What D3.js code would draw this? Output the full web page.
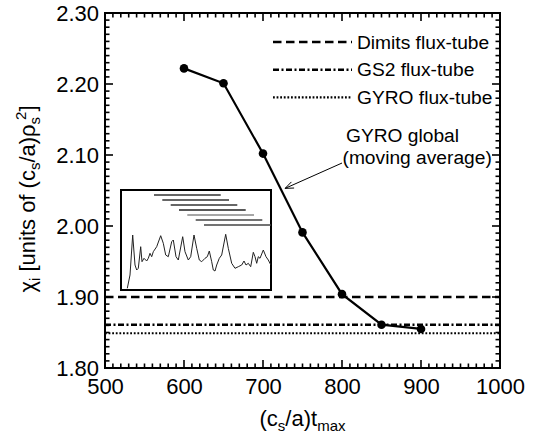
<!DOCTYPE html>
<html>
<head>
<meta charset="utf-8">
<script src="https://cdn.jsdelivr.net/npm/d3@7"></script>
<style>
  body { margin: 0; background: #fff; }
  text { font-family: "Liberation Sans", Arial, sans-serif; fill: #000; }
</style>
</head>
<body>
<div id="container"></div>
<script>
/* CONSTANTS AND GLOBALS */
const width = 539,
  height = 435,
  margin = { top: 13, bottom: 67, left: 105, right: 39 };

// MAIN DATA (GYRO global, moving average)
const tmax = [600, 650, 700, 750, 800, 850, 900];
const chiGlobal = [2.222, 2.201, 2.102, 1.991, 1.904, 1.861, 1.855];

// FLUX-TUBE REFERENCE LEVELS
const fluxNames = ["Dimits flux-tube", "GS2 flux-tube", "GYRO flux-tube"];
const fluxChi = [1.900, 1.861, 1.849];
const fluxDash = ["8.5,4.5", "6,2.5,2,2.5", "1.8,1.8"];
const fluxWidth = [2.5, 2.4, 2.1];

// TICKS
const xMajor = [500, 600, 700, 800, 900, 1000];
const yMajor = [1.80, 1.90, 2.00, 2.10, 2.20, 2.30];

// INSET: TIME TRACE AND AVERAGING WINDOWS (arbitrary units)
const insetT = [6.3, 9, 11.7, 14, 15.7, 17.3, 19.7, 21, 23, 25.7, 27.3, 29, 30.7, 32.3, 35.7,
  39.7, 42.3, 44.7, 47.3, 50.7, 52.3, 55, 57.3, 61.7, 64, 67.3, 69.7, 73, 75.7, 78.3, 80.7,
  84, 86.3, 88.3, 90.7, 92.3, 94, 95.7, 98.3, 100.7, 104.7, 107.3, 110.7, 114, 117.3, 120.7,
  123, 125, 127.3, 129.7, 132.3, 134, 135.7, 137.3, 139, 142.3, 145, 147.3, 149.7];
const insetV = [1.7, 15, 55, 25, 20, 21.7, 43.3, 28.3, 31.7, 29, 31.7, 36.7, 33.3, 38.3, 43.3,
  54.3, 46.7, 35, 33.3, 48.3, 50, 33.3, 30, 53.3, 38.3, 30, 33.3, 55, 41.7, 30, 28.3,
  31.7, 33.3, 39, 28.3, 20, 19, 25, 31.7, 35, 55.7, 41.7, 26.7, 21.7, 23.3, 25,
  29, 25, 26.7, 23.3, 37.7, 33.3, 26.7, 33.3, 31.7, 40, 33.3, 30, 25.3];
const windowStart = [33, 41.3, 49.7, 58, 66.3, 74.7, 83];
const windowEnd = [99.7, 108, 116.3, 124.7, 133, 141.3, 150];
const windowLevel = [95, 90, 85, 80, 75, 70, 65];
const windowColor = ["#333", "#333", "#333", "#222", "#888", "#444", "#444"];

// APPEND SVG
const svg = d3.select("#container")
  .append("svg")
  .attr("width", width)
  .attr("height", height)

// SCALES
const x = d3.scaleLinear().domain([500, 1000]).range([margin.left, width - margin.right])
const y = d3.scaleLinear().domain([1.80, 2.30]).range([height - margin.bottom, margin.top])

// TICK LABELS (axes used for text only)
function styleAxis(g) {
  g.select(".domain").remove()
  g.selectAll("line").remove()
  g.selectAll("text").attr("font-size", 22).attr("font-family", "'Liberation Sans', Arial, sans-serif")
}
svg.append("g")
  .attr("transform", `translate(0,${y(1.80)})`)
  .call(d3.axisBottom(x).tickValues(xMajor).tickSize(0).tickPadding(10).tickFormat(d3.format("d")))
  .call(styleAxis)
svg.append("g")
  .attr("transform", `translate(${x(500)},0)`)
  .call(d3.axisLeft(y).tickValues(yMajor).tickSize(0).tickPadding(6).tickFormat(d3.format(".2f")))
  .call(styleAxis)

// TICK MARKS, INWARD ON ALL FOUR SIDES (IDL STYLE)
const xTicks = d3.range(500, 1001, 10).map(v => ({ v, len: v % 100 === 0 ? 8 : 4.5 }))
const yTicks = d3.range(180, 231, 1).map(v => ({ v: v / 100, len: v % 10 === 0 ? 8 : 4.5 }))
const ticks = svg.append("g").attr("stroke", "#000").attr("stroke-width", 1.6)
ticks.selectAll("line.xb").data(xTicks).join("line")
  .attr("class", "xb")
  .attr("x1", d => x(d.v)).attr("x2", d => x(d.v))
  .attr("y1", y(1.80)).attr("y2", d => y(1.80) - d.len)
ticks.selectAll("line.xt").data(xTicks).join("line")
  .attr("class", "xt")
  .attr("x1", d => x(d.v)).attr("x2", d => x(d.v))
  .attr("y1", y(2.30)).attr("y2", d => y(2.30) + d.len)
ticks.selectAll("line.yl").data(yTicks).join("line")
  .attr("class", "yl")
  .attr("y1", d => y(d.v)).attr("y2", d => y(d.v))
  .attr("x1", x(500)).attr("x2", d => x(500) + d.len)
ticks.selectAll("line.yr").data(yTicks).join("line")
  .attr("class", "yr")
  .attr("y1", d => y(d.v)).attr("y2", d => y(d.v))
  .attr("x1", x(1000)).attr("x2", d => x(1000) - d.len)

// FRAME
svg.append("rect")
  .attr("x", x(500))
  .attr("y", y(2.30))
  .attr("width", x(1000) - x(500))
  .attr("height", y(1.80) - y(2.30))
  .attr("fill", "none")
  .attr("stroke", "#000")
  .attr("stroke-width", 2)

// FLUX-TUBE LEVELS
svg.selectAll("line.flux")
  .data(fluxChi)
  .join("line")
  .attr("class", "flux")
  .attr("x1", x(500))
  .attr("x2", x(1000))
  .attr("y1", d => y(d))
  .attr("y2", d => y(d))
  .attr("stroke", "#000")
  .attr("stroke-width", (d, i) => fluxWidth[i])
  .attr("stroke-dasharray", (d, i) => fluxDash[i])

// LEGEND
const legendX = 273, legendY = 42, legendStep = 27.7
const legend = svg.selectAll("g.legend")
  .data(fluxNames)
  .join("g")
  .attr("class", "legend")
  .attr("transform", (d, i) => `translate(${legendX},${legendY + i * legendStep})`)
legend.append("line")
  .attr("x1", 0)
  .attr("x2", 79)
  .attr("stroke", "#000")
  .attr("stroke-width", (d, i) => fluxWidth[i])
  .attr("stroke-dasharray", (d, i) => fluxDash[i])
legend.append("text")
  .attr("x", 84)
  .attr("y", 6.5)
  .attr("font-size", 19.2)
  .text(d => d)

// INSET
const ix = d3.scaleLinear().domain([0, 150]).range([121, 271])
const iy = d3.scaleLinear().domain([0, 100]).range([290, 190])

svg.append("rect")
  .attr("x", ix(0))
  .attr("y", iy(100))
  .attr("width", ix(150) - ix(0))
  .attr("height", iy(0) - iy(100))
  .attr("fill", "#fff")
  .attr("stroke", "#000")
  .attr("stroke-width", 2)

svg.selectAll("line.window")
  .data(windowLevel)
  .join("line")
  .attr("class", "window")
  .attr("x1", (d, i) => ix(windowStart[i]))
  .attr("x2", (d, i) => ix(windowEnd[i]))
  .attr("y1", d => iy(d))
  .attr("y2", d => iy(d))
  .attr("stroke", (d, i) => windowColor[i])
  .attr("stroke-width", 1.4)

svg.append("path")
  .datum(insetT.map((t, i) => [t, insetV[i]]))
  .attr("d", d3.line().x(d => ix(d[0])).y(d => iy(d[1])))
  .attr("fill", "none")
  .attr("stroke", "#222")
  .attr("stroke-width", 1)

// GYRO GLOBAL CURVE
const points = tmax.map((t, i) => ({ t, chi: chiGlobal[i] }))
svg.append("path")
  .datum(points)
  .attr("d", d3.line().x(d => x(d.t)).y(d => y(d.chi)))
  .attr("fill", "none")
  .attr("stroke", "#000")
  .attr("stroke-width", 2.2)
svg.selectAll("circle.global")
  .data(points)
  .join("circle")
  .attr("class", "global")
  .attr("r", 4.3)
  .attr("cx", d => x(d.t))
  .attr("cy", d => y(d.chi))
  .attr("fill", "#000")

// ANNOTATION
const arrowFrom = [800, 2.0887], arrowTo = [728, 2.053]
const ax1 = x(arrowFrom[0]), ay1 = y(arrowFrom[1]), ax2 = x(arrowTo[0]), ay2 = y(arrowTo[1])
const ang = Math.atan2(ay2 - ay1, ax2 - ax1), head = 9, spread = 0.38
svg.append("path")
  .attr("d", `M${ax1},${ay1}L${ax2},${ay2}` +
    `M${ax2 - head * Math.cos(ang - spread)},${ay2 - head * Math.sin(ang - spread)}L${ax2},${ay2}` +
    `L${ax2 - head * Math.cos(ang + spread)},${ay2 - head * Math.sin(ang + spread)}`)
  .attr("fill", "none")
  .attr("stroke", "#000")
  .attr("stroke-width", 1)
svg.append("text")
  .attr("x", 346).attr("y", 141.5)
  .attr("font-size", 19.2)
  .text("GYRO global")
svg.append("text")
  .attr("x", 342.5).attr("y", 163.5)
  .attr("font-size", 19.2)
  .text("(moving average)")

// AXIS TITLES
const xTitle = svg.append("text")
  .attr("x", (x(500) + x(1000)) / 2)
  .attr("y", 426)
  .attr("text-anchor", "middle")
  .attr("font-size", 22)
xTitle.append("tspan").text("(c")
xTitle.append("tspan").attr("font-size", 15).attr("dy", 5).text("s")
xTitle.append("tspan").attr("dy", -5).text("/a)t")
xTitle.append("tspan").attr("font-size", 15).attr("dy", 5).text("max")

const yTitle = svg.append("text")
  .attr("transform", "translate(35,199) rotate(-90)")
  .attr("text-anchor", "middle")
  .attr("font-size", 22)
yTitle.append("tspan").text("χ")
yTitle.append("tspan").attr("font-size", 15).attr("dy", 5).text("i")
yTitle.append("tspan").attr("dy", -5).text(" [units of (c")
yTitle.append("tspan").attr("font-size", 15).attr("dy", 5).text("s")
yTitle.append("tspan").attr("dy", -5).text("/a)ρ")
yTitle.append("tspan").attr("font-size", 15).attr("dy", 5).text("s")
yTitle.append("tspan").attr("font-size", 15).attr("dy", -14).attr("dx", -3).text("2")
yTitle.append("tspan").attr("dy", 9).text("]")
</script>
</body>
</html>
